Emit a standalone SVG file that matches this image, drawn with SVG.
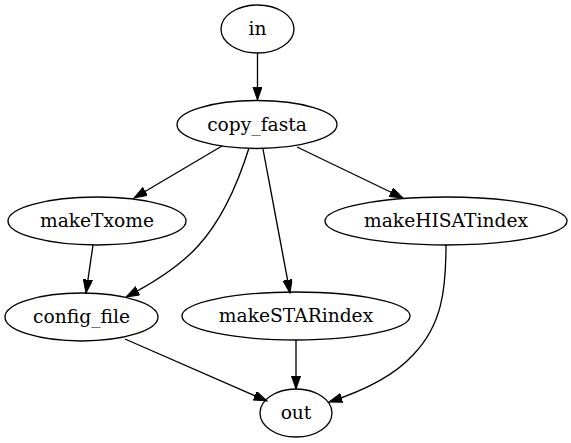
<svg xmlns="http://www.w3.org/2000/svg" width="571" height="443" viewBox="0 0 571 443">
<style>
.n ellipse{fill:none;stroke:#000;stroke-width:1.33}
.n text{font-family:'DejaVu Serif',serif;font-size:18.67px;text-anchor:middle;fill:#000}
.e path{fill:none;stroke:#000;stroke-width:1.33;marker-end:url(#ah)}
</style>
<defs>
<marker id="ah" markerUnits="userSpaceOnUse" markerWidth="14" markerHeight="10" refX="13.3" refY="4.67" orient="auto">
<path d="M0,0 L13.3,4.67 L0,9.33 z" fill="#000" stroke="#000" stroke-width="1"/>
</marker>
</defs>
<rect width="571" height="443" fill="#fff"/>
<g id="edges" class="e">
<path d="M257.5,53 L257.5,100"/>
<path d="M222,146 L134,198"/>
<path d="M249,148 C238,183 222,220 198,246 C180,266 155,282 126,297"/>
<path d="M263,149 L290,293"/>
<path d="M297,147 L403,198"/>
<path d="M93,245 L86,293"/>
<path d="M125,339 L267,401"/>
<path d="M296,340 L296,389"/>
<path d="M446,245 C446,290 442,325 413,355 C393,377 360,392 329,402"/>
</g>
<g id="in" class="n"><ellipse cx="257.5" cy="29" rx="36.5" ry="24"/><text x="257.5" y="35">in</text></g>
<g id="copy_fasta" class="n"><ellipse cx="257" cy="124.5" rx="80" ry="24"/><text x="257" y="130.5">copy_fasta</text></g>
<g id="makeTxome" class="n"><ellipse cx="97" cy="221" rx="89" ry="24"/><text x="97" y="227">makeTxome</text></g>
<g id="makeHISATindex" class="n"><ellipse cx="446" cy="221" rx="121" ry="24"/><text x="446" y="227">makeHISATindex</text></g>
<g id="config_file" class="n"><ellipse cx="81.5" cy="317" rx="76.5" ry="24"/><text x="81.5" y="323">config_file</text></g>
<g id="makeSTARindex" class="n"><ellipse cx="296" cy="316" rx="114" ry="24"/><text x="296" y="322">makeSTARindex</text></g>
<g id="out" class="n"><ellipse cx="296" cy="413" rx="36" ry="24"/><text x="296" y="419">out</text></g>
</svg>
